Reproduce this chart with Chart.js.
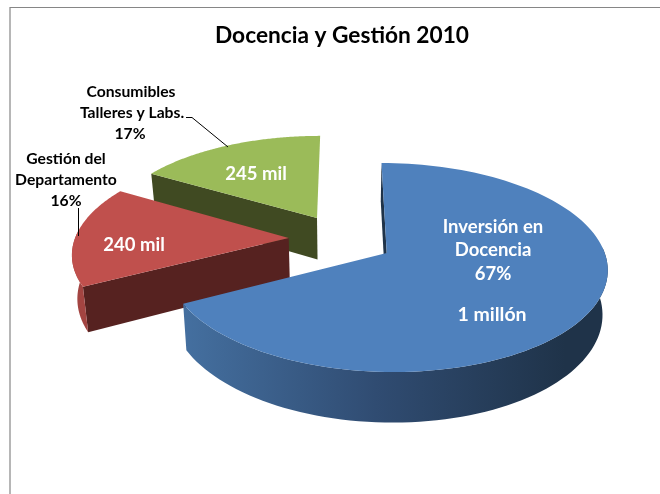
<!DOCTYPE html>
<html lang="es">
<head>
<meta charset="utf-8">
<title>Docencia y Gestión 2010</title>
<script src="https://cdn.jsdelivr.net/npm/chart.js@4"></script>
<style>
  html, body { margin: 0; padding: 0; background: #fff; }
  canvas { display: block; }
</style>
</head>
<body>
<canvas id="pie" width="660" height="494"></canvas>
<script>
// datos
const chartTitle = 'Docencia y Gestión 2010';
const categories = ['Inversión en Docencia', 'Gestión del Departamento', 'Consumibles Talleres y Labs.'];
const amounts = [1000000, 240000, 245000];
const amountLabels = ['1 millón', '240 mil', '245 mil'];
const percentLabels = ['67%', '16%', '17%'];
const topColors = ['#4f81bd', '#c0504d', '#9bbb59'];

// proyección del pie 3D (perspectiva con punto de fuga en vx)
const vx = 344, baseY = 253, radX = 218, radY = 102.5, persp = 0.139, depth = 43.5, squeeze = 0.02;
const apex = [[0.196, 0], [-0.259, -0.149], [-0.13, -0.3585]]; // centro de cada porción separada

const project = (u, v, down) => {
    const w = 1 - persp * v;
    let x = vx + radX * u / w;
    let y = baseY + radY * v / w;
    if (down) {
        y += depth / w;
        x += (vx - x) * squeeze;
    }
    return [x, y];
};

const pathOf = (ctx, pts) => {
    ctx.beginPath();
    pts.forEach((p, i) => i ? ctx.lineTo(p[0], p[1]) : ctx.moveTo(p[0], p[1]));
    ctx.closePath();
};

const arcPoints = (c, a0, a1, down, frontOnly) => {
    const n = 120, out = [];
    for (let i = 0; i <= n; i++) {
        const a = a0 + (a1 - a0) * i / n;
        if (frontOnly && Math.sin(a) < -0.08) continue; // la pared de atrás no se ve
        out.push(project(c[0] + Math.cos(a), c[1] + Math.sin(a), down));
    }
    return out;
};

const wallFill = (ctx, i) => {
    if (i === 0) {
        const g = ctx.createLinearGradient(186, 0, 565, 0);
        g.addColorStop(0, '#446f9f');
        g.addColorStop(0.5, '#304c72');
        g.addColorStop(1, '#1f3349');
        return g;
    }
    return i === 1 ? '#a34441' : '#6e8240';
};
const cutColors = ['#1f3349', '#562220', '#404a22'];

// dibuja las porciones desde atrás hacia delante usando los ángulos del controlador
const pie3d = {
    id: 'pie3d',
    beforeDatasetsDraw(chart) {
        const ctx = chart.ctx;
        const arcs = chart.getDatasetMeta(0).data;
        for (let i = arcs.length - 1; i >= 0; i--) {
            const a = arcs[i], c = apex[i];
            const s = a.startAngle, e = a.endAngle;
            const top = arcPoints(c, s, e, false);

            // solo se ve la cara de corte inicial de cada porción
            const startEdge = project(c[0] + Math.cos(s), c[1] + Math.sin(s), false);
            const startLow = project(c[0] + Math.cos(s), c[1] + Math.sin(s), true);
            pathOf(ctx, [project(c[0], c[1], false), startEdge, startLow, project(c[0], c[1], true)]);
            ctx.fillStyle = cutColors[i];
            ctx.fill();

            const wallTop = arcPoints(c, s, e, false, true);
            const wallLow = arcPoints(c, s, e, true, true);
            if (wallTop.length) {
                pathOf(ctx, wallTop.concat(wallLow.reverse()));
                ctx.fillStyle = wallFill(ctx, i);
                ctx.fill();
            }

            pathOf(ctx, [project(c[0], c[1], false)].concat(top));
            ctx.fillStyle = a.options.backgroundColor;
            ctx.fill();
        }
        return false;
    }
};

// marco y rótulos
const labelFont = 'bold 15.7px Lato';
const insideFont = 'bold 18.5px Lato';
const bigFont = 'bold 19.5px Lato';
const writeLines = (ctx, lines, font, color) => {
    ctx.font = font;
    ctx.fillStyle = color;
    ctx.textAlign = 'center';
    ctx.textBaseline = 'middle';
    lines.forEach(l => ctx.fillText(l[0], l[1], l[2]));
};

const annotations = {
    id: 'annotations',
    beforeDraw(chart) {
        const ctx = chart.ctx;
        ctx.save();
        ctx.strokeStyle = '#868686';
        ctx.lineWidth = 1.2;
        ctx.beginPath();
        ctx.moveTo(10, 494);
        ctx.lineTo(10, 7.5);
        ctx.lineTo(660, 7.5);
        ctx.stroke();
        ctx.restore();
    },
    afterDraw(chart) {
        const ctx = chart.ctx;
        ctx.save();
        ctx.strokeStyle = '#000';
        ctx.lineWidth = 1;
        ctx.beginPath();
        ctx.moveTo(186, 117.5);
        ctx.lineTo(192, 117.5);
        ctx.lineTo(228, 147);
        ctx.moveTo(78.5, 208);
        ctx.lineTo(78.5, 236);
        ctx.stroke();

        const cat0 = categories[0].split(' ');
        const cat1 = categories[1].split(' ');
        const cat2 = categories[2].split(' ');
        writeLines(ctx, [
            [cat2[0], 131, 92],
            [cat2.slice(1).join(' '), 132, 113],
            [percentLabels[2], 130, 133.5],
            [cat1.slice(0, 2).join(' '), 66, 158.5],
            [cat1[2], 66, 179.5],
            [percentLabels[1], 66, 200.5]
        ], labelFont, '#000');
        writeLines(ctx, [
            [cat0.slice(0, 2).join(' '), 493, 227],
            [cat0[2], 493, 250.5],
            [percentLabels[0], 493, 274],
            [amountLabels[1], 134, 245],
            [amountLabels[2], 256, 174]
        ], insideFont, '#fff');
        writeLines(ctx, [[amountLabels[0], 492, 315]], bigFont, '#fff');
        ctx.restore();
    }
};

new Chart(document.getElementById('pie'), {
    type: 'pie',
    data: {
        labels: categories,
        datasets: [{ data: amounts, backgroundColor: topColors, borderWidth: 0 }]
    },
    options: {
        responsive: false,
        animation: false,
        layout: { padding: { left: 24, top: 12 } },
        plugins: {
            legend: { display: false },
            tooltip: { enabled: false },
            title: {
                display: true,
                text: chartTitle,
                color: '#000',
                font: { family: 'Lato', size: 22.7, weight: 'bold' }
            }
        }
    },
    plugins: [pie3d, annotations]
});
</script>
</body>
</html>
